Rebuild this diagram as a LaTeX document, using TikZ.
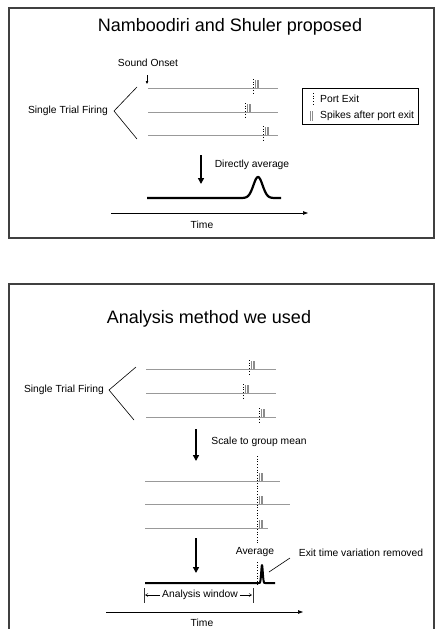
\documentclass[tikz,border=0pt]{standalone}
\usepackage{fontspec}
\setmainfont{Liberation Sans}
\usetikzlibrary{arrows.meta}
\tikzset{
  frame/.style={draw=black!75, line width=1.3pt},
  trial/.style={draw=black!40, line width=0.9pt},
  portexit/.style={draw=black, dotted, line width=0.7pt},
  spike/.style={draw=black!45, line width=0.6pt},
  bigarrow/.style={line width=2pt, -{Triangle[length=6pt,width=6pt]}},
  axis/.style={line width=0.7pt, -{Triangle[length=5pt,width=3.5pt]}},
  thinline/.style={line width=0.6pt, draw=black},
  avgline/.style={line width=2.2pt, line join=round},
  title/.style={font=\fontsize{18}{20}\selectfont, inner sep=0pt},
  lbl/.style={font=\fontsize{10.3}{12}\selectfont, inner sep=0pt},
}
\newcommand{\trialrow}[4]{%
  \draw[trial] (#1,#3) -- (#2,#3);
  \draw[portexit] (#4,#3-9) -- (#4,#3+5);
  \foreach \dx in {2.5,4,5.5} \draw[spike] (#4+\dx,#3-8) -- (#4+\dx,#3);
}
\begin{document}
\begin{tikzpicture}[x=1pt,y=-1pt]
\useasboundingbox (0,0) rectangle (436,629);
\fill[white] (0,0) rectangle (436,629);

% ---------- Top panel ----------
\draw[frame] (9,8) rectangle (434,238);
\node[title] (t1) at (230,27) {Namboodiri and Shuler proposed};
\node[lbl] (onset) at (148,63) {Sound Onset};
\coordinate (onA) at (147,75);
\coordinate (onB) at (147,84);
\draw[line width=0.6pt, -{Triangle[length=3pt,width=2.5pt]}] (onA) -- (onB);

\trialrow{148}{278}{88}{253}
\trialrow{148}{278}{112}{245}
\trialrow{148}{278}{135}{263}

\node[lbl, anchor=east] (stf1) at (108,111) {Single Trial Firing};
\draw[thinline] (137,87) -- (114,111) -- (137,139);

% legend
\node[draw=black, line width=0.8pt, minimum width=116pt, minimum height=36pt, inner sep=0pt] (legend) at (360,106) {};
\draw[portexit] (313,93) -- (313,104);
\node[lbl, anchor=west] (lpe) at (320,99) {Port Exit};
\draw[spike, line width=0.8pt] (310,111) -- (310,121);
\draw[spike, line width=0.8pt] (312.5,111) -- (312.5,121);
\node[lbl, anchor=west] (lsp) at (320,116) {Spikes after port exit};

\coordinate (a1s) at (201,155);
\coordinate (a1e) at (201,184);
\draw[bigarrow] (a1s) -- (a1e);
\node[lbl] (da) at (252,165) {Directly average};

\draw[avgline] (147,198) -- (240,198)
  plot[domain=240:281, samples=60, smooth] ({\x},{198-21*exp(-((\x-258)/6.5)^2)});

\coordinate (x1s) at (111,213);
\coordinate (x1e) at (308,213);
\draw[axis] (x1s) -- (x1e);
\node[lbl] (time1) at (202,225) {Time};

% ---------- Bottom panel ----------
\draw[frame] (9,640) -- (9,284) -- (434,284) -- (434,640);
\node[title] (t2) at (209,319) {Analysis method we used};

\trialrow{146}{276}{369}{249}
\trialrow{146}{276}{393}{243}
\trialrow{146}{276}{417}{259}

\node[lbl, anchor=east] (stf2) at (104,390) {Single Trial Firing};
\draw[thinline] (136,367) -- (109,390) -- (134,420);

\coordinate (a2s) at (196,429);
\coordinate (a2e) at (196,461);
\draw[bigarrow] (a2s) -- (a2e);
\node[lbl] (sgm) at (259,442) {Scale to group mean};

% scaled trials
\draw[trial] (145,481) -- (280,481);
\draw[trial] (145,504) -- (290,504);
\draw[trial] (145,528) -- (268,528);
\foreach \yy in {481,504,528}
  \foreach \dx in {2.5,4,5.5} \draw[spike] (257+\dx,\yy-8) -- (257+\dx,\yy);
\draw[portexit] (257,456) -- (257,543);
\draw[portexit] (257,562) -- (257,585);

\coordinate (a3s) at (196,538);
\coordinate (a3e) at (196,573);
\draw[bigarrow] (a3s) -- (a3e);
\node[lbl] (avg) at (255,552) {Average};
\node[lbl] (etv) at (361,553) {Exit time variation removed};
\coordinate (ldA) at (290,558);
\coordinate (ldB) at (269,572);
\draw[thinline] (ldA) -- (ldB);

\draw[avgline, line width=2pt] (145,583) -- (258.5,583)
  plot[domain=258.5:265.5, samples=40, smooth] ({\x},{583-18*exp(-((\x-262)/1.1)^2)})
  -- (275,583);

% analysis window
\draw[line width=0.7pt, draw=black!80] (144,588) -- (144,603);
\draw[line width=0.7pt, draw=black!80] (253,588) -- (253,603);
\node[lbl] (aw) at (200,595) {Analysis window};
\coordinate (awL) at (145,595);
\coordinate (awR) at (252,595);
\draw[line width=0.5pt, -{Straight Barb[length=2.5pt,width=3pt]}] (aw.west) ++(-2,0) -- (awL);
\draw[line width=0.5pt, -{Straight Barb[length=2.5pt,width=3pt]}] (aw.east) ++(2,0) -- (awR);

\coordinate (x2s) at (106,612);
\coordinate (x2e) at (303,612);
\draw[axis] (x2s) -- (x2e);
\node[lbl] (time2) at (202,623) {Time};
\end{tikzpicture}
\end{document}
